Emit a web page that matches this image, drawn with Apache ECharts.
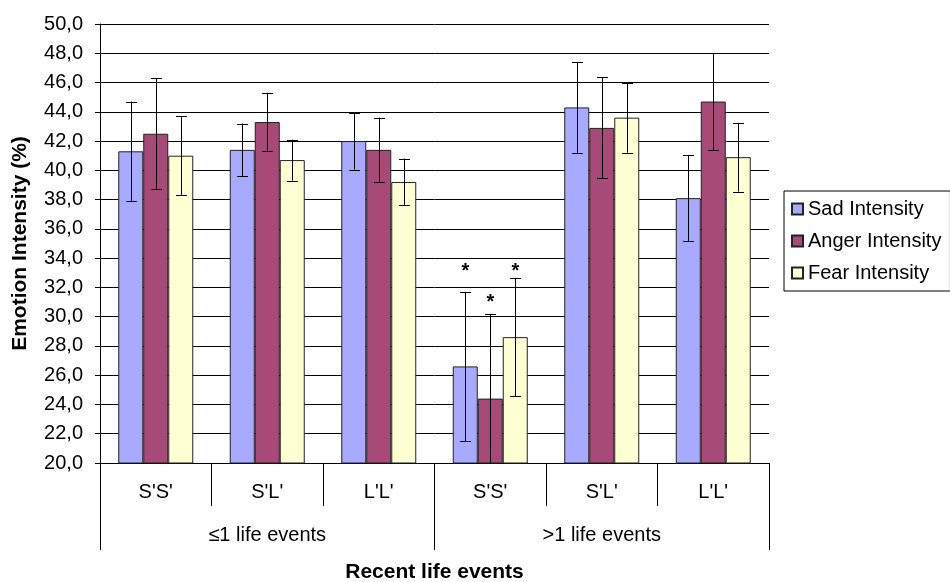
<!DOCTYPE html>
<html>
<head>
<meta charset="utf-8">
<script src="https://cdn.jsdelivr.net/npm/echarts@6/dist/echarts.min.js"></script>
<style>
html,body{margin:0;padding:0;background:#fff;}
#chart{width:950px;height:582px;}
</style>
</head>
<body>
<div id="chart"></div>
<script>
const groups = ['≤1 life events', '>1 life events'];
const categories = ["S'S'", "S'L'", "L'L'", "S'S'", "S'L'", "L'L'"];
const yTicks = { min: 20, max: 50, step: 2 };

const seriesNames = ['Sad Intensity', 'Anger Intensity', 'Fear Intensity'];
const sadMean   = [41.3, 41.4, 42.0, 26.6, 44.3, 38.1];
const sadErr    = [3.4, 1.8, 1.95, 5.1, 3.1, 2.95];
const angerMean = [42.5, 43.3, 41.4, 24.4, 42.9, 44.7];
const angerErr  = [3.8, 2.0, 2.2, 5.8, 3.45, 3.3];
const fearMean  = [41.0, 40.7, 39.2, 28.6, 43.6, 40.9];
const fearErr   = [2.7, 1.4, 1.6, 4.05, 2.4, 2.35];
// significance markers (*) : value level at which the star is drawn
const sadStar   = [null, null, null, 33.4, null, null];
const angerStar = [null, null, null, 31.3, null, null];
const fearStar  = [null, null, null, 33.4, null, null];

const colors = ['#A8AAFF', '#A84A78', '#FFFFD4'];
const FONT = 'Liberation Sans, Arial, sans-serif';
const BAR_W = 25;

const means = [sadMean, angerMean, fearMean];
const errs = [sadErr, angerErr, fearErr];
const stars = [sadStar, angerStar, fearStar];

const chart = echarts.init(document.getElementById('chart'), null, { renderer: 'canvas' });

const barSeries = seriesNames.map((name, s) => ({
  name: name,
  type: 'bar',
  xAxisIndex: 0,
  data: means[s],
  barWidth: BAR_W,
  barGap: '0%',
  itemStyle: { color: colors[s], borderColor: '#222', borderWidth: 1 },
  emphasis: { disabled: true },
  z: 2
}));

const errSeries = seriesNames.map((name, s) => ({
  type: 'custom',
  xAxisIndex: 0,
  data: means[s].map((m, i) => [i, m, errs[s][i], stars[s][i] == null ? NaN : stars[s][i]]),
  z: 5,
  silent: true,
  clip: false,
  renderItem: function (params, api) {
    const i = api.value(0);
    const m = api.value(1);
    const e = api.value(2);
    const st = api.value(3);
    const offset = (s - 1) * BAR_W;
    const lo = Math.max(m - e, yTicks.min);
    const top = api.coord([i, m + e]);
    const bot = api.coord([i, lo]);
    const x = Math.round(top[0] + offset) + 0.5;
    const capW = 5.5;
    const style = { stroke: '#000', lineWidth: 1 };
    const children = [
      { type: 'line', shape: { x1: x, y1: top[1], x2: x, y2: bot[1] }, style: style },
      { type: 'line', shape: { x1: x - capW, y1: Math.round(top[1]) + 0.5, x2: x + capW, y2: Math.round(top[1]) + 0.5 }, style: style }
    ];
    if (m - e >= yTicks.min) {
      children.push({ type: 'line', shape: { x1: x - capW, y1: Math.round(bot[1]) + 0.5, x2: x + capW, y2: Math.round(bot[1]) + 0.5 }, style: style });
    }
    if (!isNaN(st)) {
      const sp = api.coord([i, st]);
      children.push({
        type: 'text',
        style: { text: '*', x: x, y: sp[1] + 5, align: 'center', verticalAlign: 'middle', fill: '#000', font: 'bold 20px ' + FONT }
      });
    }
    return { type: 'group', children: children };
  }
}));

const option = {
  backgroundColor: '#fff',
  animation: false,
  color: colors,
  textStyle: { fontFamily: FONT, color: '#000' },
  grid: { left: 100, right: 181, top: 24, bottom: 119, containLabel: false, outerBoundsMode: 'none' },
  legend: {
    data: seriesNames,
    orient: 'vertical',
    left: 784,
    top: 191,
    padding: [8, 9, 8, 7],
    borderColor: '#000',
    borderWidth: 1,
    itemWidth: 11,
    itemHeight: 11,
    itemGap: 12,
    icon: 'rect',
    textStyle: { fontSize: 20, color: '#000', fontFamily: FONT },
    selectedMode: false
  },
  xAxis: [
    {
      type: 'category',
      data: categories,
      position: 'bottom',
      axisLine: { show: true, lineStyle: { color: '#000', width: 1 } },
      axisTick: { show: true, interval: 0, length: 43, lineStyle: { color: '#000' } },
      axisLabel: { interval: 0, margin: 19, fontSize: 20, color: '#000', fontFamily: FONT },
      splitLine: { show: false }
    },
    {
      type: 'category',
      data: groups,
      position: 'bottom',
      axisLine: { show: false },
      axisTick: { show: true, interval: 0, length: 87, lineStyle: { color: '#000' } },
      axisLabel: { interval: 0, margin: 62, fontSize: 20, color: '#000', fontFamily: FONT },
      splitLine: { show: false },
      name: 'Recent life events',
      nameLocation: 'middle',
      nameGap: 99,
      nameTextStyle: { fontSize: 21, fontWeight: 'bold', color: '#000', fontFamily: FONT }
    }
  ],
  yAxis: {
    type: 'value',
    min: yTicks.min,
    max: yTicks.max,
    interval: yTicks.step,
    axisLine: { show: true, lineStyle: { color: '#000', width: 1 } },
    axisTick: { show: true, length: 5, lineStyle: { color: '#000' } },
    axisLabel: {
      margin: 17, fontSize: 20, color: '#000', fontFamily: FONT,
      formatter: v => v.toFixed(1).replace('.', ',')
    },
    splitLine: { show: true, lineStyle: { color: '#000', width: 1 } },
    name: 'Emotion Intensity (%)',
    nameLocation: 'middle',
    nameGap: 69,
    nameTextStyle: { fontSize: 21, fontWeight: 'bold', color: '#000', fontFamily: FONT }
  },
  series: barSeries.concat(errSeries)
};

chart.setOption(option);
</script>
</body>
</html>
